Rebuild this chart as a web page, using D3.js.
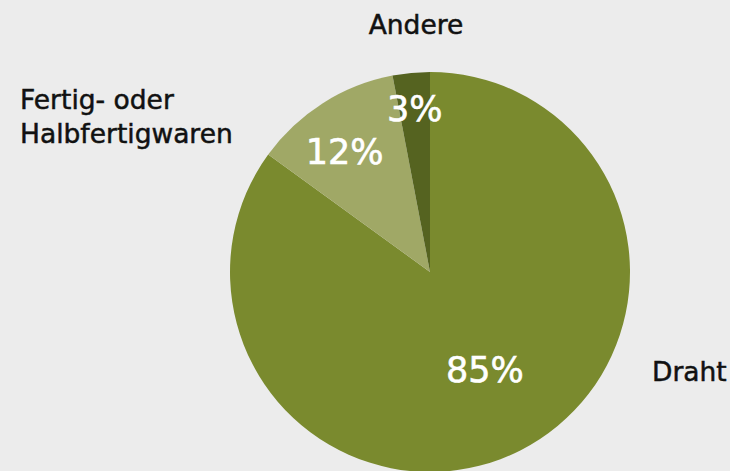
<!DOCTYPE html>
<html>
<head>
<meta charset="utf-8">
<script src="https://cdn.jsdelivr.net/npm/d3@7"></script>
<style>
  html, body { margin: 0; padding: 0; background: #ececec; }
  svg { display: block; }
  text { font-family: "DejaVu Sans", sans-serif; }
</style>
</head>
<body>
<div id="pie_container"></div>
<script>
// data
const categories = ["Draht", "Fertig- oder Halbfertigwaren", "Andere"];
const shares = [85, 12, 3];
const colors = ["#7a8a2e", "#a0a866", "#556320"];

// label text lines (outside labels)
const outerLines = [["Draht"], ["Fertig- oder", "Halbfertigwaren"], ["Andere"]];

const width = 730;
const height = 471;
const radius = 200;
const cx = 430, cy = 272;

const svg = d3.select("#pie_container")
  .append("svg")
    .attr("width", width)
    .attr("height", height);

const g = svg.append("g")
  .attr("transform", `translate(${cx}, ${cy})`);

const data = categories.map((c, i) => ({ name: c, value: shares[i], color: colors[i], lines: outerLines[i] }));

const pie = d3.pie()
  .sort(null)
  .value(d => d.value);

const arcs = pie(data);

const arc = d3.arc()
  .innerRadius(0)
  .outerRadius(radius);

// slices
g.selectAll("path")
  .data(arcs)
  .join("path")
    .attr("d", arc)
    .attr("fill", d => d.data.color);

// inside percentage labels, radius + small offset per slice
const innerR = [112, 148, 163];
const innerShift = [[4, -2], [-6, 4], [0, -1]];
g.selectAll("text.pct")
  .data(arcs)
  .join("text")
    .attr("class", "pct")
    .attr("transform", (d, i) => {
      const c = d3.arc().innerRadius(innerR[i]).outerRadius(innerR[i]).centroid(d);
      return `translate(${c[0] + innerShift[i][0]}, ${c[1] + innerShift[i][1]})`;
    })
    .attr("text-anchor", "middle")
    .attr("dy", "0.36em")
    .style("fill", "#ffffff")
    .style("stroke", "#ffffff")
    .style("stroke-width", 0.6)
    .style("font-size", "35px")
  .text(d => d.data.value + "%");

// outside labels
const outerPos = [
  { x: 652, y: 381, anchor: "start" },
  { x: 20, y: 109, anchor: "start" },
  { x: 416, y: 34, anchor: "middle" }
];
const lineH = 34;

svg.selectAll("text.lbl")
  .data(data)
  .join("text")
    .attr("class", "lbl")
    .attr("x", (d, i) => outerPos[i].x)
    .attr("y", (d, i) => outerPos[i].y)
    .attr("text-anchor", (d, i) => outerPos[i].anchor)
    .style("fill", "#111111")
    .style("stroke", "#111111")
    .style("stroke-width", 0.5)
    .style("font-size", "26.5px")
  .each(function(d, i) {
    d3.select(this).selectAll("tspan")
      .data(d.lines)
      .join("tspan")
        .attr("x", outerPos[i].x)
        .attr("dy", (l, j) => j === 0 ? 0 : lineH)
        .text(l => l);
  });
</script>
</body>
</html>
